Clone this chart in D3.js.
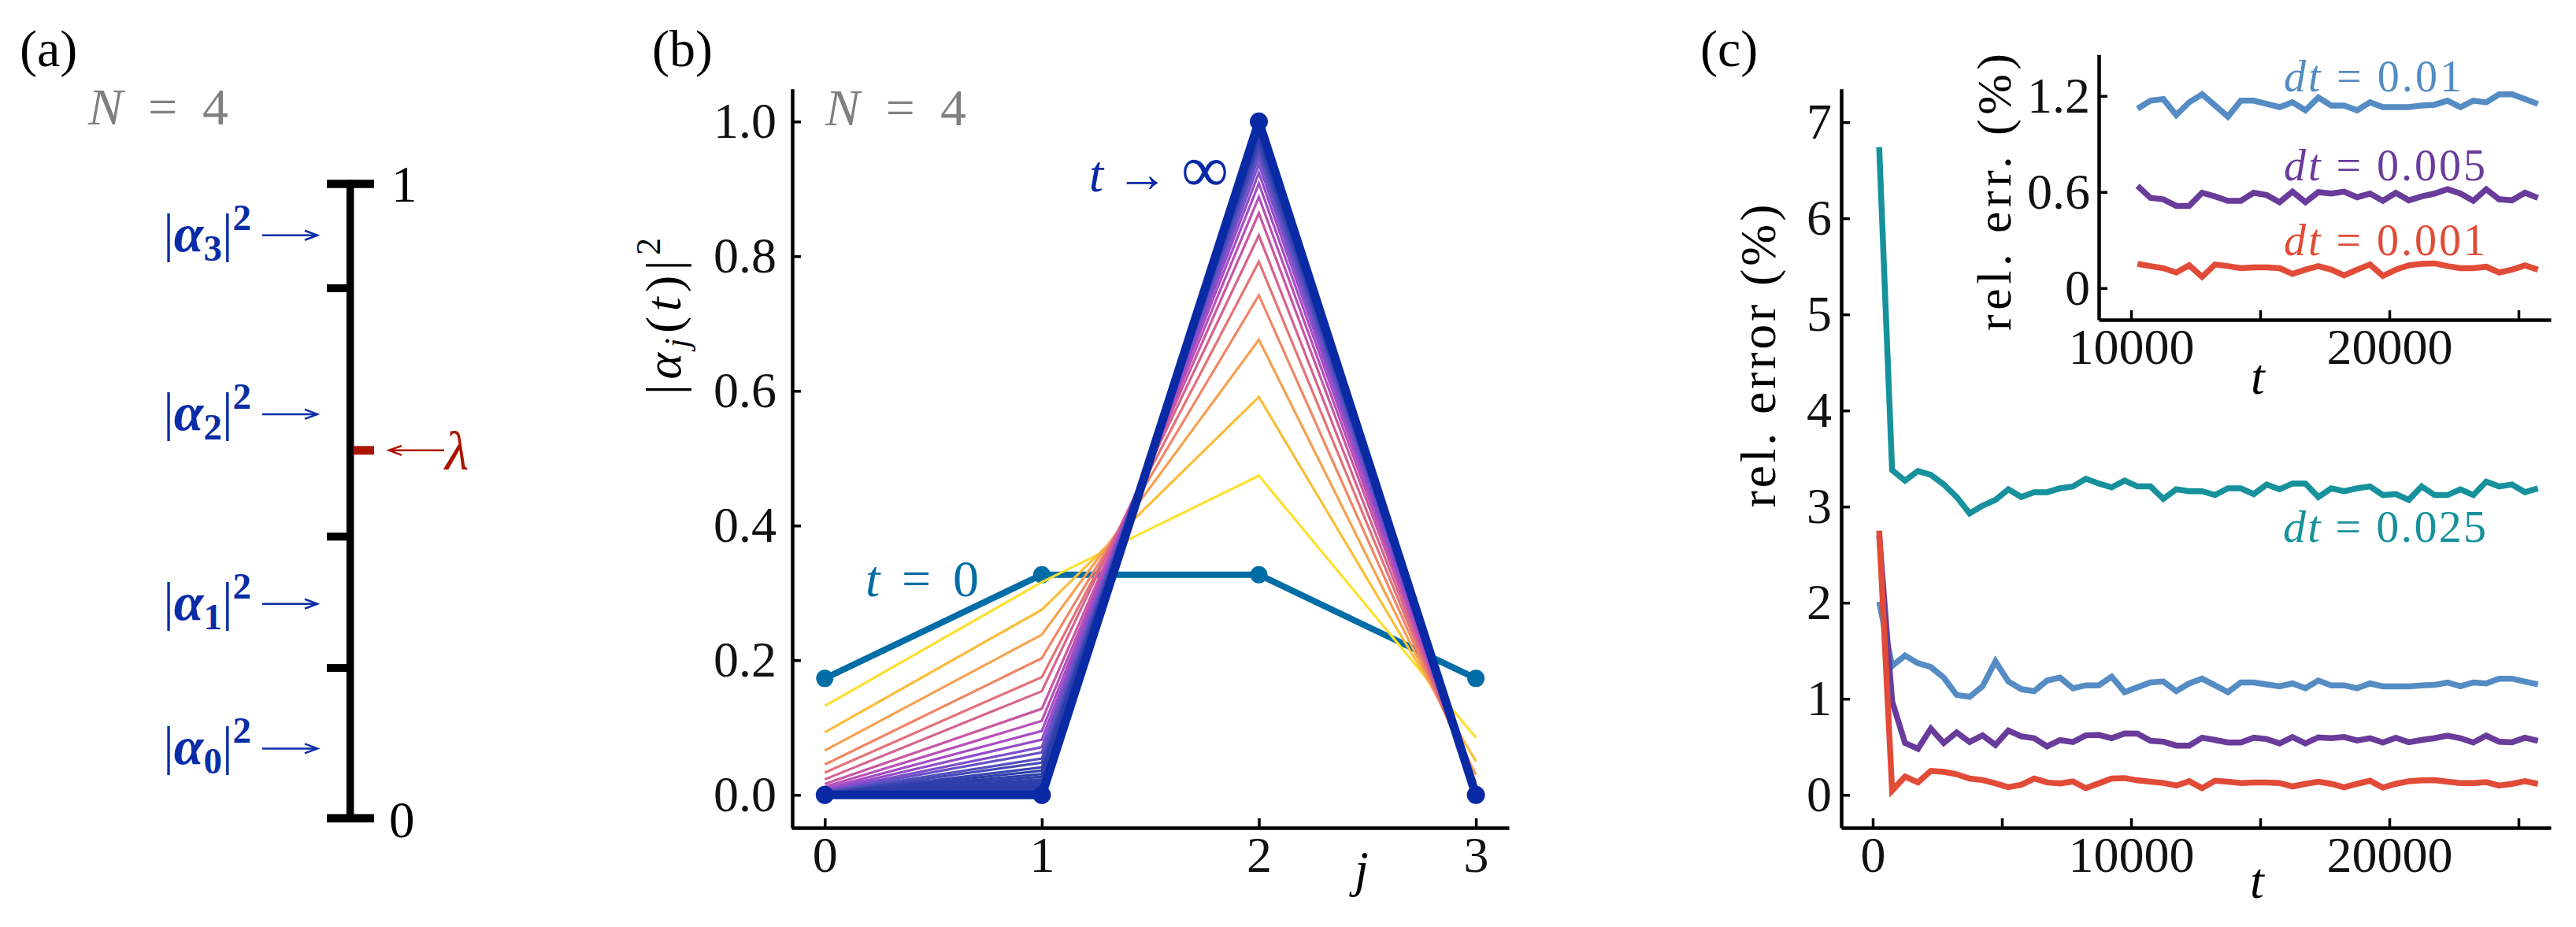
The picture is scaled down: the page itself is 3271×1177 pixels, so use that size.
<!DOCTYPE html>
<html><head><meta charset="utf-8">
<script src="https://cdn.jsdelivr.net/npm/d3@7"></script>
<style>
body{margin:0;background:#fff;}
svg{display:block;}
svg text{font-family:"Liberation Serif","DejaVu Serif","Noto Serif",serif !important;}
</style></head><body>
<svg id="c" width="3271" height="1177"></svg>
<script>
// ---------- DATA ----------
// panel (a): cumulative boundaries on the [0,1] bar
const aBoundaries = [0, 0.237, 0.444, 0.8355, 1];
const aLabelPos = [0.110, 0.338, 0.637, 0.919];
const aLabelIdx = ["0", "1", "2", "3"];
const aLambda = 0.58;

// panel (b)
const bJ = [0, 1, 2, 3];
const bInitial = [0.173, 0.327, 0.327, 0.173];
const bFinal = [0, 0, 1, 0];
const bLinesJ0 = [0.132,0.093,0.066,0.045,0.033,0.023,0.016,0.012,0.009,0.007,0.0055,0.0045,0.0037,0.003,0.0025,0.002,0.0016,0.0013,0.001,0.0008,0.0006,0.0005,0.0004,0.0003,0.00025,0.0002,0.00015,0.0001,0.00008,0.00005];
const bLinesJ1 = [0.316,0.275,0.238,0.203,0.175,0.154,0.128,0.110,0.095,0.082,0.071,0.063,0.054,0.048,0.041,0.036,0.031,0.027,0.023,0.020,0.017,0.014,0.012,0.010,0.008,0.006,0.005,0.004,0.003,0.002];
const bLinesJ2 = [0.474,0.591,0.676,0.742,0.792,0.831,0.864,0.888,0.908,0.924,0.937,0.948,0.957,0.964,0.970,0.975,0.979,0.983,0.986,0.988,0.990,0.992,0.9935,0.995,0.996,0.997,0.9977,0.9983,0.9988,0.9992];
const bLinesJ3 = [0.085,0.050,0.030,0.018,0.011,0.007,0.005,0.0035,0.0025,0.0018,0.0013,0.001,0.0008,0.0006,0.0005,0.0004,0.0003,0.0002,0.0002,0.0001,0.0001,0.0001,0.0001,0.0001,0,0,0,0,0,0];
const bTicksY = [0, 0.2, 0.4, 0.6, 0.8, 1.0];

// panel (c)
const cT = [250,750,1250,1750,2250,2750,3250,3750,4250,4750,5250,5750,6250,6750,7250,7750,8250,8750,9250,9750,10250,10750,11250,11750,12250,12750,13250,13750,14250,14750,15250,15750,16250,16750,17250,17750,18250,18750,19250,19750,20250,20750,21250,21750,22250,22750,23250,23750,24250,24750,25250,25750];
const cDt025 = [6.74,3.38,3.27,3.37,3.33,3.23,3.10,2.93,3.01,3.07,3.18,3.10,3.15,3.15,3.19,3.21,3.29,3.24,3.20,3.27,3.21,3.21,3.08,3.18,3.16,3.16,3.12,3.19,3.19,3.13,3.23,3.18,3.24,3.24,3.10,3.19,3.16,3.19,3.21,3.12,3.13,3.07,3.21,3.12,3.12,3.18,3.12,3.26,3.21,3.23,3.15,3.19];
const cDt01 = [2.01,1.34,1.45,1.37,1.33,1.22,1.04,1.02,1.13,1.39,1.18,1.10,1.08,1.19,1.22,1.11,1.14,1.14,1.23,1.07,1.12,1.17,1.18,1.08,1.16,1.21,1.14,1.07,1.17,1.17,1.15,1.13,1.16,1.11,1.19,1.14,1.14,1.11,1.16,1.13,1.13,1.13,1.14,1.145,1.17,1.13,1.17,1.16,1.21,1.21,1.18,1.15];
const cDt005 = [2.70,0.975,0.54,0.48,0.69,0.54,0.65,0.55,0.62,0.52,0.67,0.61,0.59,0.505,0.57,0.55,0.62,0.625,0.59,0.64,0.638,0.563,0.554,0.513,0.513,0.595,0.572,0.545,0.545,0.595,0.581,0.536,0.602,0.536,0.599,0.590,0.602,0.567,0.590,0.545,0.595,0.548,0.572,0.590,0.617,0.590,0.545,0.617,0.554,0.548,0.595,0.563];
const cDt001 = [2.75,0.046,0.19,0.13,0.25,0.24,0.215,0.17,0.155,0.12,0.08,0.105,0.17,0.13,0.12,0.14,0.07,0.12,0.17,0.175,0.151,0.137,0.124,0.097,0.142,0.070,0.147,0.137,0.124,0.129,0.129,0.124,0.088,0.115,0.137,0.115,0.079,0.115,0.147,0.076,0.115,0.142,0.151,0.154,0.137,0.124,0.124,0.133,0.097,0.115,0.142,0.115];
const cSeriesNames = ["0.025", "0.01", "0.005", "0.001"];
const cMainTicksX = [0,5000,10000,15000,20000,25000];
const cMainTicksY = [0,1,2,3,4,5,6,7];
const cInsetStart = 10000;
const cInsetTicksX = [10000,15000,20000,25000];
const cInsetTicksY = [0, 0.6, 1.2];

// ---------- STYLE ----------
const BLUE_A = "#0a2da6", RED_A = "#ab1500", GRAY = "#808080";
const C_T0 = "#006da6", C_TINF = "#0a2aa5";
const cColors = {"0.025":"#17919b","0.01":"#558cc3","0.005":"#693c9b","0.001":"#e14b37"};
const bStops = ["#fde030","#fbbd38","#f7a04f","#ef8765","#e37378","#d6638d","#c957a3","#b94fb7","#a64cc4","#934cc9","#7c4fca","#6650c6","#524fbe","#434ab6","#3844b0","#2e3eab"];
const TICKFS = 64;
const FONT = '"Liberation Serif","DejaVu Serif","Noto Serif",serif';

const svg = d3.select("#c");

function label(x, y, txt, opts = {}) {
  const t = svg.append("text").attr("x", x).attr("y", y)
    .attr("font-family", FONT)
    .attr("font-size", opts.fs || 66).attr("fill", opts.fill || "#000")
    .attr("text-anchor", opts.anchor || "start");
  if (txt) t.text(txt);
  if (opts.len) t.attr("textLength", opts.len).attr("lengthAdjust", "spacing");
  if (opts.rot) t.attr("transform", `rotate(-90 ${x} ${y})`);
  return t;
}
function seg(t, s, o = {}) {
  const ts = t.append("tspan").text(s);
  if (o.it) ts.attr("font-style", "italic");
  if (o.fs) ts.attr("font-size", o.fs);
  if (o.dy) ts.attr("dy", o.dy);
  return ts;
}
function styleAxis(g) {
  g.attr("font-family", FONT);
  g.select(".domain").attr("stroke-width", 4.5);
  g.selectAll(".tick line").attr("stroke-width", 3.5);
  g.selectAll(".tick text").attr("font-size", TICKFS).attr("fill", "#111").attr("font-family", FONT);
}

// ================= PANEL (a) =================
const ya = d3.scaleLinear().domain([0, 1]).range([1039, 233.5]);
const axA = 444.7;
label(25, 84, "(a)");
{ const t = label(112, 158, "", {fill: GRAY, len: 178});
  seg(t, "N", {it: true}); seg(t, " = 4"); }
svg.append("line").attr("x1", axA).attr("x2", axA).attr("y1", ya(1) - 5).attr("y2", ya(0) + 5)
  .attr("stroke", "#000").attr("stroke-width", 9.5);
svg.selectAll(".acap").data([0, 1]).enter().append("line")
  .attr("x1", 415).attr("x2", 475).attr("y1", d => ya(d)).attr("y2", d => ya(d))
  .attr("stroke", "#000").attr("stroke-width", 10.5);
svg.selectAll(".atick").data(aBoundaries.slice(1, -1)).enter().append("line")
  .attr("x1", 415).attr("x2", axA).attr("y1", d => ya(d)).attr("y2", d => ya(d))
  .attr("stroke", "#000").attr("stroke-width", 10);
svg.append("line").attr("x1", axA + 4).attr("x2", 475).attr("y1", ya(aLambda)).attr("y2", ya(aLambda))
  .attr("stroke", RED_A).attr("stroke-width", 11);
label(497, ya(1) + 22, "1", {fs: 65});
label(494, ya(0) + 24, "0", {fs: 65});
aLabelPos.forEach((p, i) => {
  const y = ya(p);
  svg.append("line").attr("x1", 333).attr("x2", 403).attr("y1", y).attr("y2", y)
    .attr("stroke", BLUE_A).attr("stroke-width", 2.5);
  svg.append("path").attr("d", `M387,${y - 6} L403,${y} L387,${y + 6}`)
    .attr("fill", "none").attr("stroke", BLUE_A).attr("stroke-width", 2.5);
  const t = label(319, y + 20, "", {fill: BLUE_A, fs: 68, anchor: "end"});
  seg(t, "|"); seg(t, "α", {it: true}).attr("font-weight", "bold");
  seg(t, aLabelIdx[i], {fs: 47, dy: 12}).attr("font-weight", "bold");
  seg(t, "|", {dy: -12}); seg(t, "2", {fs: 47, dy: -27}).attr("font-weight", "bold");
});
{ const y = ya(aLambda);
  svg.append("line").attr("x1", 494).attr("x2", 564).attr("y1", y).attr("y2", y)
    .attr("stroke", RED_A).attr("stroke-width", 2.5);
  svg.append("path").attr("d", `M510,${y - 6} L494,${y} L510,${y + 6}`)
    .attr("fill", "none").attr("stroke", RED_A).attr("stroke-width", 2.5);
  const t = label(565, y + 24, "", {fill: RED_A, fs: 70});
  seg(t, "λ", {it: true});
}

// ================= PANEL (b) =================
const xb = d3.scaleLinear().domain([-0.1535, 3.152]).range([1005, 1916]);
const yb = d3.scaleLinear().domain([-0.0488, 1.0487]).range([1051, 112.7]);
label(828, 84, "(b)");
const gbx = svg.append("g").attr("transform", "translate(0,1051)")
  .call(d3.axisBottom(xb).tickValues(bJ).tickSize(-12).tickSizeOuter(0).tickPadding(11).tickFormat(d3.format("d")));
const gby = svg.append("g").attr("transform", "translate(1006,0)")
  .call(d3.axisLeft(yb).tickValues(bTicksY).tickSize(-11).tickSizeOuter(0).tickPadding(20).tickFormat(d3.format(".1f")));
[gbx, gby].forEach(styleAxis);
const lineB = d3.line().x((d, i) => xb(bJ[i])).y(d => yb(d));
// t = 0
svg.append("path").attr("d", lineB(bInitial)).attr("fill", "none")
  .attr("stroke", C_T0).attr("stroke-width", 8).attr("stroke-linejoin", "round");
svg.selectAll(".m0").data(bInitial).enter().append("circle")
  .attr("cx", (d, i) => xb(bJ[i])).attr("cy", d => yb(d)).attr("r", 11).attr("fill", C_T0);
// intermediate
const nL = bLinesJ0.length;
const cmap = d3.piecewise(d3.interpolateRgb, bStops);
for (let k = 0; k < nL; k++) {
  const vals = [bLinesJ0[k], bLinesJ1[k], bLinesJ2[k], bLinesJ3[k]];
  svg.append("path").attr("d", lineB(vals)).attr("fill", "none")
    .attr("stroke", cmap(Math.min(1, k / (bStops.length - 1)))).attr("stroke-width", 3.2).attr("stroke-linejoin", "miter");
}
// t -> inf
svg.append("path").attr("d", lineB(bFinal)).attr("fill", "none")
  .attr("stroke", C_TINF).attr("stroke-width", 11).attr("stroke-linejoin", "round");
svg.selectAll(".mi").data(bFinal).enter().append("circle")
  .attr("cx", (d, i) => xb(bJ[i])).attr("cy", d => yb(d)).attr("r", 11.5).attr("fill", C_TINF);
{ const t = label(1048, 159, "", {fill: GRAY, len: 179});
  seg(t, "N", {it: true}); seg(t, " = 4"); }
{ const t = label(1560, 243, "", {fill: C_TINF, fs: 66, anchor: "end"});
  seg(t, "t", {it: true}); seg(t, " → "); seg(t, "∞", {fs: 84}); }
{ const t = label(1099, 757, "", {fill: C_T0, fs: 66, len: 144});
  seg(t, "t", {it: true}); seg(t, " = 0"); }
{ const t = label(1720, 1125, "", {fs: 64});
  seg(t, "j", {it: true}); }
{ const t = label(864, 501, "", {fs: 64, rot: true, len: 199});
  seg(t, "|"); seg(t, "α", {it: true}); seg(t, "j", {it: true, fs: 44, dy: 10});
  seg(t, "(", {dy: -10}); seg(t, "t", {it: true}); seg(t, ")|"); seg(t, "2", {fs: 44, dy: -26}); }

// ================= PANEL (c) =================
const xc = d3.scaleLinear().domain([-1219.5, 26250]).range([2338, 3239]);
const yc = d3.scaleLinear().domain([-0.342, 7.348]).range([1051, 112.7]);
label(2159, 84, "(c)");
const gcx = svg.append("g").attr("transform", "translate(0,1051)")
  .call(d3.axisBottom(xc).tickValues(cMainTicksX).tickSize(-12).tickSizeOuter(0).tickPadding(11)
    .tickFormat(d => d % 10000 === 0 ? d3.format("d")(d) : ""));
const gcy = svg.append("g").attr("transform", "translate(2338,0)")
  .call(d3.axisLeft(yc).tickValues(cMainTicksY).tickSize(-11).tickSizeOuter(0).tickPadding(12).tickFormat(d3.format("d")));
const seriesData = {"0.025": cDt025, "0.01": cDt01, "0.005": cDt005, "0.001": cDt001};
const lineC = d3.line().x((d, i) => xc(cT[i])).y(d => yc(d));
cSeriesNames.forEach(n => {
  svg.append("path").attr("d", lineC(seriesData[n])).attr("fill", "none")
    .attr("stroke", cColors[n]).attr("stroke-width", 7.5).attr("stroke-linejoin", "miter");
});
{ const t = label(2899, 688, "", {fill: cColors["0.025"], fs: 58, len: 258});
  seg(t, "dt", {it: true}); seg(t, " = 0.025"); }
label(2254, 452, "rel. error (%)", {fs: 64, rot: true, len: 385, anchor: "middle"});
{ const t = label(2857, 1140, "", {fs: 64}); seg(t, "t", {it: true}); }

// inset
const xi = d3.scaleLinear().domain([8750, 26250]).range([2665, 3239]);
const yi = d3.scaleLinear().domain([-0.198, 1.458]).range([406, 69.3]);
const gix = svg.append("g").attr("transform", "translate(0,406)")
  .call(d3.axisBottom(xi).tickValues(cInsetTicksX).tickSize(-12).tickSizeOuter(0).tickPadding(11)
    .tickFormat(d => d % 10000 === 0 ? d3.format("d")(d) : ""));
const giy = svg.append("g").attr("transform", "translate(2665,0)")
  .call(d3.axisLeft(yi).tickValues(cInsetTicksY).tickSize(-11).tickSizeOuter(0).tickPadding(11)
    .tickFormat(d => d === 0 ? "0" : d3.format(".1f")(d)));
[gcx, gcy, gix, giy].forEach(styleAxis);
const insetIdx = cT.map((t, i) => i).filter(i => cT[i] >= cInsetStart);
const lineI = d3.line().x(i => xi(cT[i]));
["0.01", "0.005", "0.001"].forEach(n => {
  svg.append("path").attr("d", lineI.y(i => yi(seriesData[n][i]))(insetIdx)).attr("fill", "none")
    .attr("stroke", cColors[n]).attr("stroke-width", 7.5).attr("stroke-linejoin", "miter");
});
[["0.01", 116, 226], ["0.005", 229, 256], ["0.001", 324, 256]].forEach(([n, y, w]) => {
  const t = label(2900, y, "", {fill: cColors[n], fs: 56, len: w});
  seg(t, "dt", {it: true}); seg(t, " = " + n);
});
label(2553, 244, "rel. err. (%)", {fs: 62, rot: true, len: 352, anchor: "middle"});
{ const t = label(2858, 500, "", {fs: 64}); seg(t, "t", {it: true}); }
</script>
</body></html>
